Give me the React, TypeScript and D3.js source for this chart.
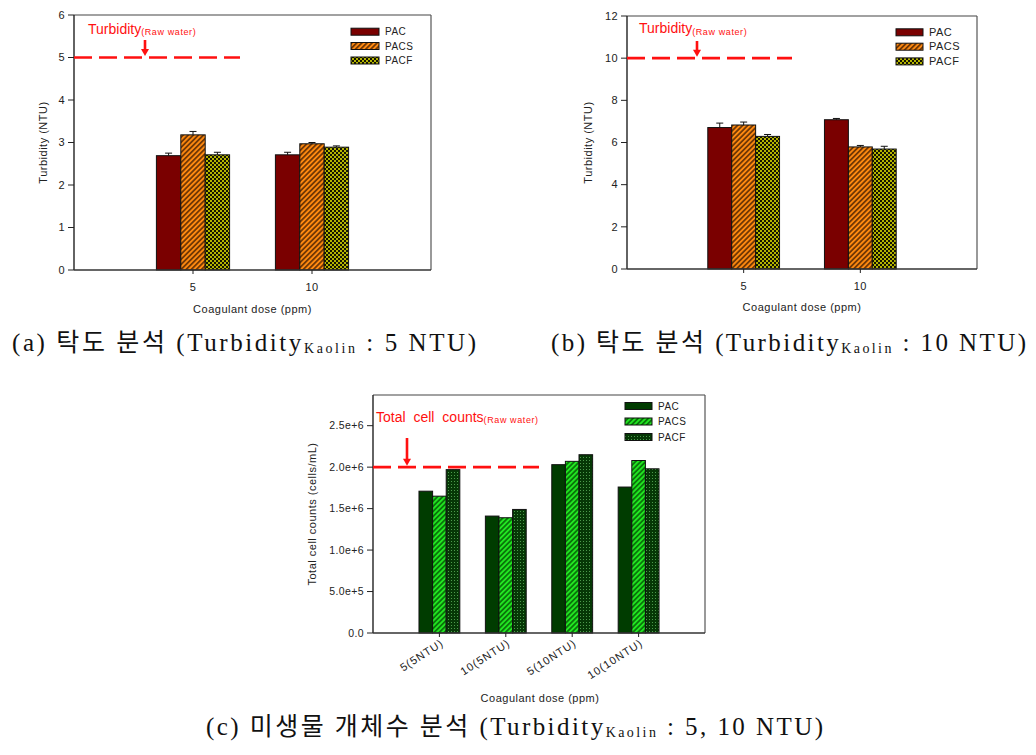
import React from "react";
import * as d3 from "d3";

// ---------- DATA ----------
const seriesNames = ["PAC", "PACS", "PACF"];

const catsA = ["5", "10"];
const pacA = [2.69, 2.71];
const pacsA = [3.18, 2.97];
const pacfA = [2.71, 2.89];
const pacErrA = [0.06, 0.06];
const pacsErrA = [0.08, 0.03];
const pacfErrA = [0.06, 0.03];
const ticksA = [0, 1, 2, 3, 4, 5, 6];
const rawA = 5;

const catsB = ["5", "10"];
const pacB = [6.71, 7.08];
const pacsB = [6.83, 5.79];
const pacfB = [6.29, 5.69];
const pacErrB = [0.21, 0.06];
const pacsErrB = [0.14, 0.07];
const pacfErrB = [0.09, 0.13];
const ticksB = [0, 2, 4, 6, 8, 10, 12];
const rawB = 10;

const catsC = ["5(5NTU)", "10(5NTU)", "5(10NTU)", "10(10NTU)"];
const pacC = [1.71e6, 1.41e6, 2.03e6, 1.76e6];
const pacsC = [1.65e6, 1.39e6, 2.07e6, 2.08e6];
const pacfC = [1.97e6, 1.49e6, 2.15e6, 1.98e6];
const ticksC = [0, 5e5, 1e6, 1.5e6, 2e6, 2.5e6];
const tickLabelsC = ["0.0", "5.0e+5", "1.0e+6", "1.5e+6", "2.0e+6", "2.5e+6"];
const rawC = 2e6;

const SANS = "'Liberation Sans', Arial, sans-serif";
const SERIF = "'Liberation Serif', 'DejaVu Serif', 'Noto Sans CJK KR', serif";
const RED = "#ff1010";

type Cfg = {
  x0: number; x1: number; yTop: number; yBot: number; yMax: number;
  cats: string[]; series: number[][]; errs?: number[][];
  ticks: number[]; tickLabels?: string[];
  fills: string[]; legendFills: string[];
  legend: { x: number; ys: number[]; w: number; fs: number };
  raw: number; rawEnd: number;
  ann: { text: string; x: number; y: number; arrowX: number; arrowY0: number; ws?: number };
  yTitle: string; yTitleX: number;
  xTitleY: number; xTitleX?: number;
  rotated?: boolean; tickFs: number; tickLabelY: number;
};

function Panel({ c }: { c: Cfg }) {
  const xs = d3.scaleLinear().domain([0, c.cats.length + 1]).range([c.x0, c.x1]);
  const ys = d3.scaleLinear().domain([0, c.yMax]).range([c.yBot, c.yTop]);
  const step = xs(1) - xs(0);
  const bw = step * 0.205;
  const tip = ys(c.raw) - 1.5;
  const xMid = c.xTitleX ?? (c.x0 + c.x1) / 2;
  return (
    <g fontFamily={SANS}>
      {/* frame */}
      <line x1={c.x0} x2={c.x1} y1={c.yTop} y2={c.yTop} stroke="#444" strokeWidth={1.2} />
      <line x1={c.x1} x2={c.x1} y1={c.yTop} y2={c.yBot} stroke="#555" strokeWidth={1.2} />
      {/* bars */}
      {c.cats.map((cat, i) =>
        c.series.map((s, k) => {
          const cx = xs(i + 1) + (k - 1) * bw;
          const v = s[i];
          const e = c.errs ? c.errs[k][i] : 0;
          return (
            <g key={cat + k}>
              <rect x={cx - bw / 2} y={ys(v)} width={bw} height={ys(0) - ys(v)} fill={c.fills[k]} stroke="#111" strokeWidth={1} />
              {c.errs && (
                <g stroke="#111" strokeWidth={1}>
                  <line x1={cx} x2={cx} y1={ys(v)} y2={ys(v + e)} />
                  <line x1={cx - 3.5} x2={cx + 3.5} y1={ys(v + e)} y2={ys(v + e)} />
                </g>
              )}
            </g>
          );
        })
      )}
      {/* axes */}
      <line x1={c.x0} x2={c.x0} y1={c.yTop} y2={c.yBot} stroke="#222" strokeWidth={1.4} />
      <line x1={c.x0} x2={c.x1} y1={c.yBot} y2={c.yBot} stroke="#333" strokeWidth={1.4} />
      {c.ticks.map((t, i) => (
        <g key={"yt" + i}>
          <line x1={c.x0 - 6} x2={c.x0} y1={ys(t)} y2={ys(t)} stroke="#222" strokeWidth={1} />
          <text x={c.x0 - 9} y={ys(t) + 3.8} textAnchor="end" fontSize={c.tickFs} fill="#222" letterSpacing={0.4}>
            {c.tickLabels ? c.tickLabels[i] : String(t)}
          </text>
        </g>
      ))}
      {c.cats.map((cat, i) => (
        <g key={"xt" + i}>
          <line x1={xs(i + 1)} x2={xs(i + 1)} y1={c.yBot} y2={c.yBot + 4} stroke="#222" strokeWidth={1} />
          {c.rotated ? (
            <text x={xs(i + 1) + 5} y={c.tickLabelY} textAnchor="end" fontSize={11} fill="#222" letterSpacing={1}
              transform={`rotate(-33, ${xs(i + 1) + 5}, ${c.tickLabelY})`}>{cat}</text>
          ) : (
            <text x={xs(i + 1)} y={c.tickLabelY} textAnchor="middle" fontSize={c.tickFs} fill="#222" letterSpacing={0.4}>{cat}</text>
          )}
        </g>
      ))}
      <text x={xMid} y={c.xTitleY} textAnchor="middle" fontSize={11} fill="#222" letterSpacing={0.5}>Coagulant dose (ppm)</text>
      <text transform={`translate(${c.yTitleX}, ${(c.yTop + c.yBot) / 2}) rotate(-90)`} textAnchor="middle" fontSize={11} fill="#222" letterSpacing={0.5}>{c.yTitle}</text>
      {/* legend */}
      {seriesNames.map((n, k) => (
        <g key={n}>
          <rect x={c.legend.x} y={c.legend.ys[k] - 3.5} width={c.legend.w} height={7} fill={c.legendFills[k]} stroke="#111" strokeWidth={1} />
          <text x={c.legend.x + c.legend.w + 6} y={c.legend.ys[k] + 3.6} fontSize={c.legend.fs} fill="#222" letterSpacing={0.5}>{n}</text>
        </g>
      ))}
      {/* raw water line */}
      <line x1={c.x0} x2={c.rawEnd} y1={ys(c.raw)} y2={ys(c.raw)} stroke={RED} strokeWidth={2.6} strokeDasharray="18 7" />
      <text x={c.ann.x} y={c.ann.y} fill={RED} fontSize={14} wordSpacing={c.ann.ws ?? 0}>
        {c.ann.text}
        <tspan fontSize={9} dy={1.5} letterSpacing={0.6} wordSpacing={0}>(Raw water)</tspan>
      </text>
      <line x1={c.ann.arrowX} x2={c.ann.arrowX} y1={c.ann.arrowY0} y2={tip - 6} stroke={RED} strokeWidth={2.6} />
      <polygon points={`${c.ann.arrowX - 4},${tip - 7} ${c.ann.arrowX + 4},${tip - 7} ${c.ann.arrowX},${tip}`} fill={RED} />
    </g>
  );
}

const cfgA: Cfg = {
  x0: 74, x1: 431, yTop: 15, yBot: 270, yMax: 6,
  cats: catsA, series: [pacA, pacsA, pacfA], errs: [pacErrA, pacsErrA, pacfErrA],
  ticks: ticksA, fills: ["#7a0000", "url(#hatchO)", "url(#checkY)"],
  legendFills: ["#7a0000", "url(#hatchO)", "url(#checkY)"],
  legend: { x: 351, ys: [31.7, 46, 60.5], w: 28, fs: 10 },
  raw: rawA, rawEnd: 240,
  ann: { text: "Turbidity", x: 88, y: 33.5, arrowX: 145, arrowY0: 40 },
  yTitle: "Turbidity (NTU)", yTitleX: 47, xTitleY: 313, tickFs: 11, tickLabelY: 291,
};

const cfgB: Cfg = {
  x0: 627, x1: 977, yTop: 16, yBot: 269, yMax: 12,
  cats: catsB, series: [pacB, pacsB, pacfB], errs: [pacErrB, pacsErrB, pacfErrB],
  ticks: ticksB, fills: ["#7a0000", "url(#hatchO)", "url(#checkY)"],
  legendFills: ["#7a0000", "url(#hatchO)", "url(#checkY)"],
  legend: { x: 896, ys: [32.3, 46.7, 61.4], w: 27, fs: 11 },
  raw: rawB, rawEnd: 792,
  ann: { text: "Turbidity", x: 639, y: 33, arrowX: 697, arrowY0: 41 },
  yTitle: "Turbidity (NTU)", yTitleX: 592, xTitleY: 311, xTitleX: 802, tickFs: 11, tickLabelY: 290,
};

const cfgC: Cfg = {
  x0: 373, x1: 705, yTop: 395, yBot: 633, yMax: 2.87e6,
  cats: catsC, series: [pacC, pacsC, pacfC],
  ticks: ticksC, tickLabels: tickLabelsC,
  fills: ["#003c00", "url(#hatchG)", "url(#dotG)"],
  legendFills: ["#003c00", "url(#hatchG)", "url(#dotG)"],
  legend: { x: 625, ys: [406, 421.5, 437], w: 27, fs: 10 },
  raw: rawC, rawEnd: 539,
  ann: { text: "Total cell counts", x: 376, y: 421.7, arrowX: 407, arrowY0: 438, ws: 4 },
  yTitle: "Total cell counts (cells/mL)", yTitleX: 316, xTitleY: 702, xTitleX: 540,
  rotated: true, tickFs: 10.5, tickLabelY: 645,
};

function Caption({ x, y, w, pre, post }: { x: number; y: number; w: number; pre: string; post: string }) {
  return (
    <text x={x} y={y} fontFamily={SERIF} fontSize={25} fill="#111" textLength={w} lengthAdjust="spacing">
      {pre}
      <tspan fontSize={14} dy={2}>Kaolin</tspan>
      <tspan dy={-2}>{post}</tspan>
    </text>
  );
}

export default function App() {
  return (
    <div style={{ position: "absolute", left: 0, top: 0 }}>
      <svg width={1036} height={755} style={{ display: "block", background: "#fff" }}>
        <defs>
          <pattern id="hatchO" width={3.6} height={3.6} patternUnits="userSpaceOnUse" patternTransform="rotate(45)">
            <rect width={3.6} height={3.6} fill="#ff8a10" />
            <line x1={1.8} x2={1.8} y1={0} y2={3.6} stroke="#3a1800" strokeWidth={1.3} />
          </pattern>
          <pattern id="checkY" width={4} height={4} patternUnits="userSpaceOnUse">
            <rect width={4} height={4} fill="#b4b400" />
            <rect x={0} y={0} width={2} height={2} fill="#141400" />
            <rect x={2} y={2} width={2} height={2} fill="#141400" />
          </pattern>
          <pattern id="hatchG" width={3.6} height={3.6} patternUnits="userSpaceOnUse" patternTransform="rotate(45)">
            <rect width={3.6} height={3.6} fill="#22e622" />
            <line x1={1.8} x2={1.8} y1={0} y2={3.6} stroke="#004a00" strokeWidth={1.3} />
          </pattern>
          <pattern id="dotG" width={3} height={3} patternUnits="userSpaceOnUse">
            <rect width={3} height={3} fill="#063806" />
            <rect x={1} y={1} width={1} height={1} fill="#4c9a4c" />
          </pattern>
        </defs>
        <Panel c={cfgA} />
        <Panel c={cfgB} />
        <Panel c={cfgC} />
        <Caption x={12} y={351} w={464} pre="(a) 탁도 분석 (Turbidity" post=" : 5 NTU)" />
        <Caption x={551} y={351} w={475} pre="(b) 탁도 분석 (Turbidity" post=" : 10 NTU)" />
        <Caption x={206} y={735} w={617} pre="(c) 미생물 개체수 분석 (Turbidity" post=" : 5, 10 NTU)" />
      </svg>
    </div>
  );
}
